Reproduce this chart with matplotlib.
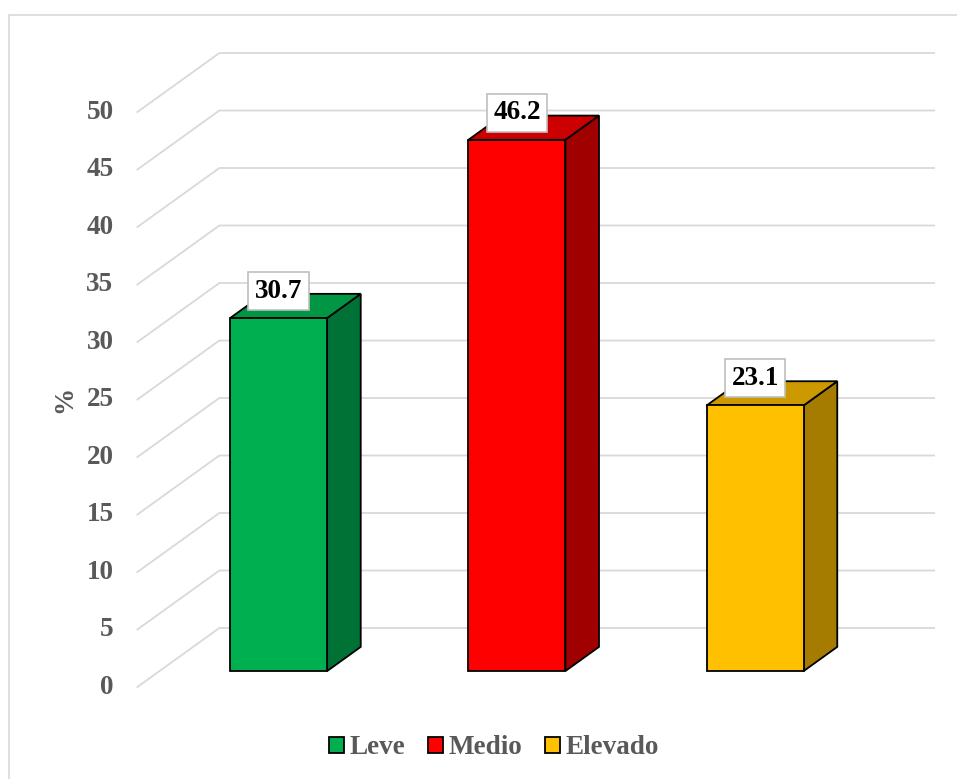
import matplotlib
matplotlib.use("Agg")
import matplotlib.pyplot as plt
from matplotlib.patches import Polygon, Patch, Rectangle

# ---- data ----
categories = ["Leve", "Medio", "Elevado"]
values = [30.7, 46.2, 23.1]
labels = ["30.7", "46.2", "23.1"]
yticks = [0, 5, 10, 15, 20, 25, 30, 35, 40, 45, 50]
front_colors = ["#00B050", "#FF0000", "#FFC000"]
top_colors = ["#009644", "#CC0000", "#CC9900"]
side_colors = ["#007236", "#A00000", "#A67C00"]

# ---- layout (3D projection parameters) ----
DX, DY = 0.344, 5.13      # full depth offset in (category, value) units
D0, D1 = 0.27, 0.68       # bar depth range
BAR_W = 0.407
X_LEFT, X_RIGHT = -0.5, 2.5
GRID = "#D9D9D9"
TXT = "#595959"
FONT = "Liberation Serif"
FS = 19.5


def P(x, v, d):
    return (x + d * DX, v + d * DY)


fig = plt.figure(figsize=(9.57, 7.79), dpi=100)
ax = fig.add_axes([0, 0, 1, 1])
ax.set_xlim(-1.0766, 2.940)
ax.set_ylim(-8.0, 59.74)
ax.axis("off")

# outer chart border
fig.patches.append(Rectangle((9 / 957, -0.01), 1.0, 1 - 15 / 779 + 0.01,
                             transform=fig.transFigure, fill=False,
                             edgecolor=GRID, linewidth=1.2))

# gridlines: diagonal on side wall + horizontal on back wall
for v in yticks:
    xa, ya = P(X_LEFT, v, 0)
    xb, yb = P(X_LEFT, v, 1)
    xc, yc = P(X_RIGHT, v, 1)
    ax.plot([xa, xb, xc], [ya, yb, yc], color=GRID, lw=1.3, zorder=1,
            solid_joinstyle="miter")
    ax.text(X_LEFT - 0.10, v, str(v), ha="right", va="center",
            fontsize=FS, fontweight="bold", color=TXT, family=FONT)

ax.text(-0.804, 25, "%", rotation=90, ha="center", va="center",
        fontsize=FS, fontweight="bold", color=TXT, family=FONT)

# bars
for i, val in enumerate(values):
    x0, x1 = i - BAR_W / 2, i + BAR_W / 2
    front = [P(x0, 0, D0), P(x1, 0, D0), P(x1, val, D0), P(x0, val, D0)]
    top = [P(x0, val, D0), P(x1, val, D0), P(x1, val, D1), P(x0, val, D1)]
    side = [P(x1, 0, D0), P(x1, val, D0), P(x1, val, D1), P(x1, 0, D1)]
    for pts, col in ((side, side_colors[i]), (top, top_colors[i]),
                     (front, front_colors[i])):
        ax.add_patch(Polygon(pts, closed=True, facecolor=col,
                             edgecolor="black", linewidth=1.3, zorder=3,
                             joinstyle="miter"))
    cx, cy = P(i, val, D0)
    ax.text(cx, cy + 2.35, labels[i], ha="center", va="center",
            fontsize=FS, fontweight="bold", color="black", family=FONT,
            zorder=5,
            bbox=dict(boxstyle="square,pad=0.24", facecolor="white",
                      edgecolor="#BFBFBF", linewidth=1.2))

# legend
handles = [Patch(facecolor=c, edgecolor="black", linewidth=1.3)
           for c in front_colors]
leg = fig.legend(handles, categories, loc="center",
                 bbox_to_anchor=(0.516, 0.040), ncol=3, frameon=False,
                 handlelength=0.55, handleheight=0.55, handletextpad=0.2,
                 columnspacing=0.85,
                 prop={"family": FONT, "weight": "bold", "size": FS})
for t in leg.get_texts():
    t.set_color(TXT)

fig.savefig("out.png", dpi=100, facecolor="white")
